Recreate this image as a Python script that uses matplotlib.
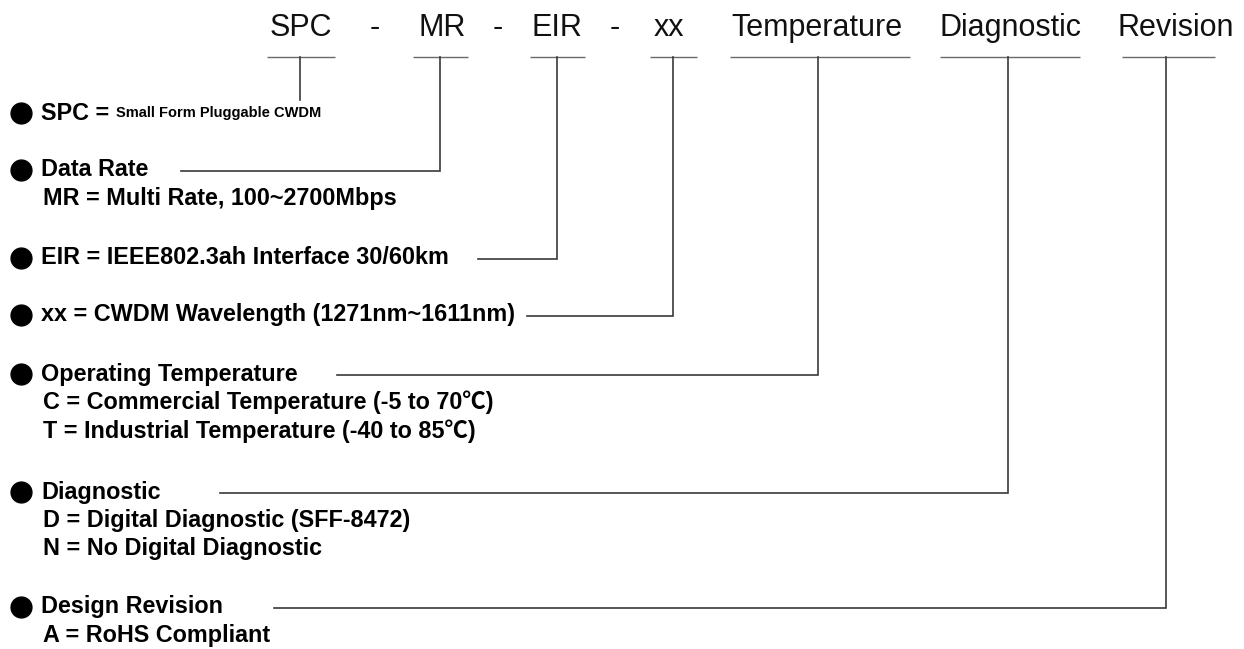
import matplotlib.pyplot as plt
from matplotlib import font_manager

# part number segments shown along the top
segments = ['SPC', 'MR', 'EIR', 'xx', 'Temperature', 'Diagnostic', 'Revision']
separators = ['-', '-', '-']

# legend groups: bold heading plus detail lines
headings = [
    'SPC = ',
    'Data Rate',
    'EIR = IEEE802.3ah Interface 30/60km',
    'xx = CWDM Wavelength (1271nm~1611nm)',
    'Operating Temperature',
    'Diagnostic',
    'Design Revision',
]
spc_note = 'Small Form Pluggable CWDM'
details = [
    [],
    ['MR = Multi Rate, 100~2700Mbps'],
    [],
    [],
    ['C = Commercial Temperature (-5 to 70\u2103)',
     'T = Industrial Temperature (-40 to 85\u2103)'],
    ['D = Digital Diagnostic (SFF-8472)',
     'N = No Digital Diagnostic'],
    ['A = RoHS Compliant'],
]

# layout (pixels, origin top-left)
seg_x = [301, 442, 557, 669, 817, 1011, 1176]
sep_x = [375, 498, 615]
bar_left = [267, 413, 530, 650, 730, 940, 1122]
bar_right = [335, 468, 585, 697, 910, 1080, 1215]
drop_x = [300, 440, 557, 673, 818, 1008, 1166]
head_y = [113, 170, 258, 315, 374, 492, 607]
line_start = [None, 181, 478, 527, 337, 220, 274]
BAR_Y = 57
ROW_STEP = 28.5

names = {f.name for f in font_manager.fontManager.ttflist}
narrow = 'Liberation Sans Narrow' in names

fig = plt.figure(figsize=(12.44, 6.49), dpi=100)
ax = fig.add_axes([0, 0, 1, 1])
ax.set_xlim(0, 1244)
ax.set_ylim(649, 0)
ax.axis('off')

body = dict(family=['Liberation Sans', 'Noto Sans CJK SC', 'DejaVu Sans'],
            fontsize=16.8, fontweight='bold', color='black', va='center', ha='left')

#header row
for name, x in zip(segments, seg_x):
    ax.text(x, 36, name, family=['Liberation Sans', 'DejaVu Sans'], fontsize=22,
            ha='center', va='baseline', color='#111111')
for s, x in zip(separators, sep_x):
    ax.text(x, 36, s, family=['Liberation Sans', 'DejaVu Sans'], fontsize=22,
            ha='center', va='baseline', color='#111111')

# short bars under each segment
for l, r in zip(bar_left, bar_right):
    ax.plot([l, r], [BAR_Y, BAR_Y], color='#6a6a6a', lw=1.0, solid_capstyle='butt')

# bullets, headings and detail lines
for i, (h, y) in enumerate(zip(headings, head_y)):
    ax.plot(21, y, 'o', ms=15, color='black')
    t = ax.text(41, y, h, **body)
    if i == 0:
        if narrow:
            ax.annotate(spc_note, xy=(1, 0.5), xycoords=t, va='center', ha='left',
                        family='Liberation Sans Narrow', fontsize=12.5, fontweight='bold')
        else:
            ax.annotate(spc_note, xy=(1, 0.5), xycoords=t, va='center', ha='left',
                        family='Liberation Sans', fontsize=10.5, fontweight='bold')
    for j, d in enumerate(details[i]):
        ax.text(43, y + ROW_STEP * (j + 1), d, **body)

# connectors from each segment down to its heading
for i, x in enumerate(drop_x):
    if line_start[i] is None:
        ax.plot([x, x], [BAR_Y, 100], color='#3a3a3a', lw=1.2)
    else:
        yl = head_y[i] + 1
        ax.plot([x, x, line_start[i]], [BAR_Y, yl, yl], color='#3a3a3a', lw=1.2,
                solid_joinstyle='miter')

fig.savefig('out.png', dpi=100)
